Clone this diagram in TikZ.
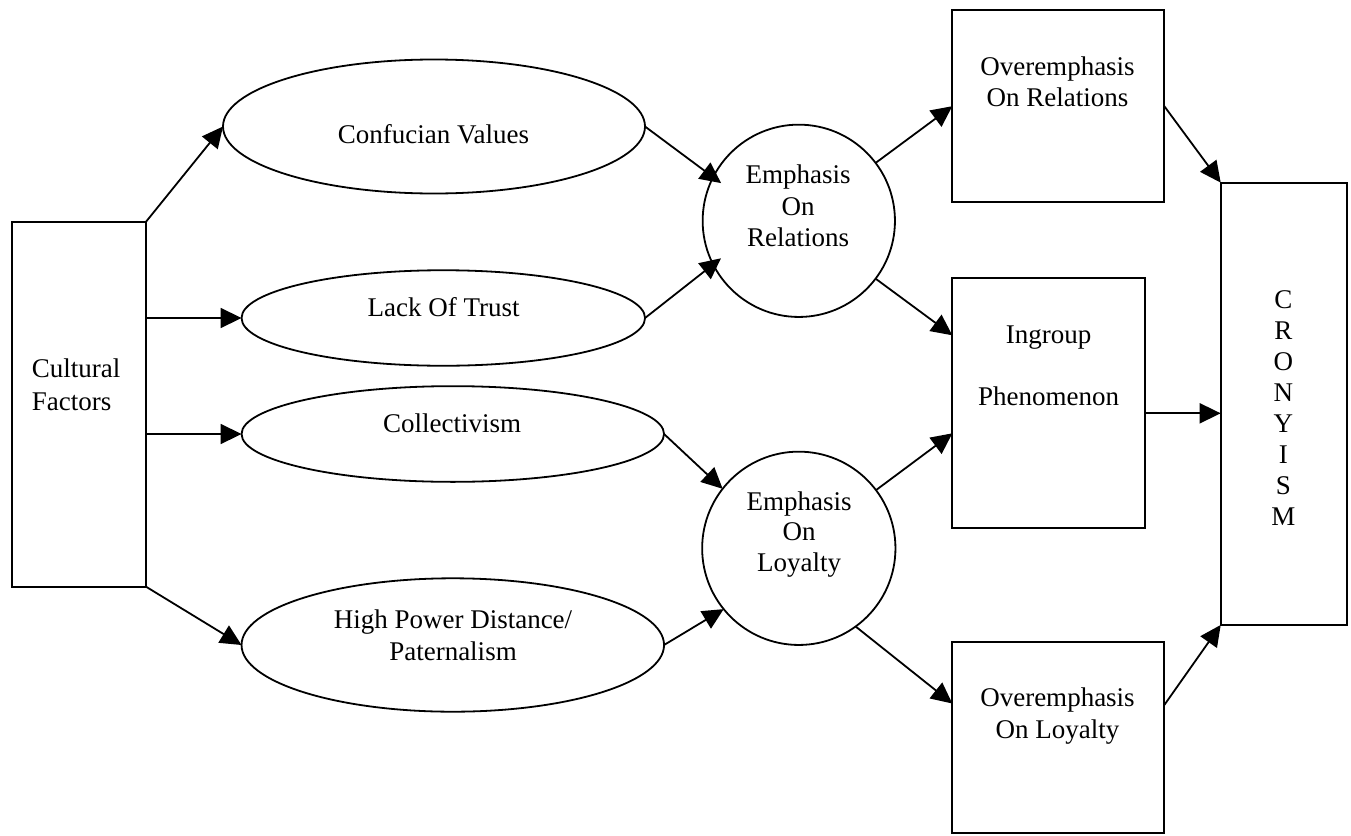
\documentclass[tikz,border=0pt]{standalone}
\usepackage{fontspec}
\setmainfont{Liberation Serif}
\usetikzlibrary{arrows.meta,shapes.geometric}
\begin{document}
\begin{tikzpicture}[x=1pt,y=-1pt,
  shapeline/.style={draw=black, line width=1.8pt, inner sep=0pt, outer sep=0pt},
  boxnode/.style={shapeline, rectangle},
  ovalnode/.style={shapeline, ellipse},
  roundnode/.style={shapeline, circle},
  labeltext/.style={font=\fontsize{27}{31.5}\selectfont, align=center, anchor=base, inner sep=0pt},
  link/.style={line width=1.8pt, -{Triangle[length=21pt,width=20pt]}},
]
\useasboundingbox (0,0) rectangle (1351,835);

% outlines
\node[boxnode, minimum width=134.3pt, minimum height=365pt] (cf) at (78.9,404.2) {};
\node[ovalnode, minimum width=422pt, minimum height=134pt] (conf) at (434,126.5) {};
\node[ovalnode, minimum width=403.5pt, minimum height=95.5pt] (lot) at (443.3,318) {};
\node[ovalnode, minimum width=422.5pt, minimum height=95.7pt] (coll) at (452.8,434) {};
\node[ovalnode, minimum width=422.5pt, minimum height=133.4pt] (hpd) at (452.8,645) {};
\node[roundnode, minimum size=192.3pt] (emr) at (798.8,220.8) {};
\node[roundnode, minimum size=193.3pt] (eml) at (798.8,548.3) {};
\node[boxnode, minimum width=212pt, minimum height=192.3pt] (ovr) at (1058.3,106.2) {};
\node[boxnode, minimum width=192.7pt, minimum height=250pt] (ing) at (1048.7,403.3) {};
\node[boxnode, minimum width=212pt, minimum height=191.7pt] (ovl) at (1058.3,737.5) {};
\node[boxnode, minimum width=126pt, minimum height=442.3pt] (cr) at (1283.7,403.8) {};

% texts (a multi-line node sits on the baseline of its last line)
\node[labeltext, align=left, anchor=base west, font=\fontsize{27}{33}\selectfont] (cft) at (31.7,410) {Cultural\\Factors};
\node[labeltext] (conft) at (433.5,143) {Confucian Values};
\node[labeltext] (lott) at (443.6,316.7) {Lack Of Trust};
\node[labeltext] (collt) at (452,432.7) {Collectivism};
\node[labeltext, font=\fontsize{27}{32}\selectfont] (hpdt) at (453,660) {High Power Distance/\\Paternalism};
\node[labeltext] (emrt) at (798,246.7) {Emphasis\\On\\Relations};
\node[labeltext, font=\fontsize{27}{30.8}\selectfont] (emlt) at (799,571.7) {Emphasis\\On\\Loyalty};
\node[labeltext] (ovrt) at (1057.5,106.7) {Overemphasis\\On Relations};
\node[labeltext] (ingt) at (1048.7,405) {Ingroup\\[30pt]Phenomenon};
\node[labeltext] (ovlt) at (1057.5,738.3) {Overemphasis\\On Loyalty};
\node[labeltext, font=\fontsize{27}{31}\selectfont] (crt) at (1283.3,525) {C\\R\\O\\N\\Y\\I\\S\\M};

% connectors
\draw[link] (cf.north east) -- (conf.west);
\draw[link] (cf.east |- lot.west) -- (lot.west);
\draw[link] (cf.east |- coll.west) -- (coll.west);
\draw[link] (cf.south east) -- (hpd.west);
\draw[link, shorten >=-10pt] (conf.east) -- (emr.153);
\draw[link, shorten >=-10pt] (lot.east) -- (emr.207);
\draw[link] (coll.east) -- (eml.142);
\draw[link] (hpd.east) -- (eml.219);
\draw[link] (emr.37) -- (ovr.west);
\draw[link] (emr.-37) -- ([yshift=68pt]ing.west);
\draw[link] (eml.37) -- ([yshift=-30pt]ing.west);
\draw[link] (eml.-54) -- ([yshift=34pt]ovl.west);
\draw[link] (ovr.east) -- (cr.north west);
\coordinate (igout) at ([yshift=-10pt]ing.east);
\draw[link] (igout) -- (igout -| cr.west);
\draw[link] ([yshift=32.5pt]ovl.east) -- (cr.south west);
\end{tikzpicture}
\end{document}
